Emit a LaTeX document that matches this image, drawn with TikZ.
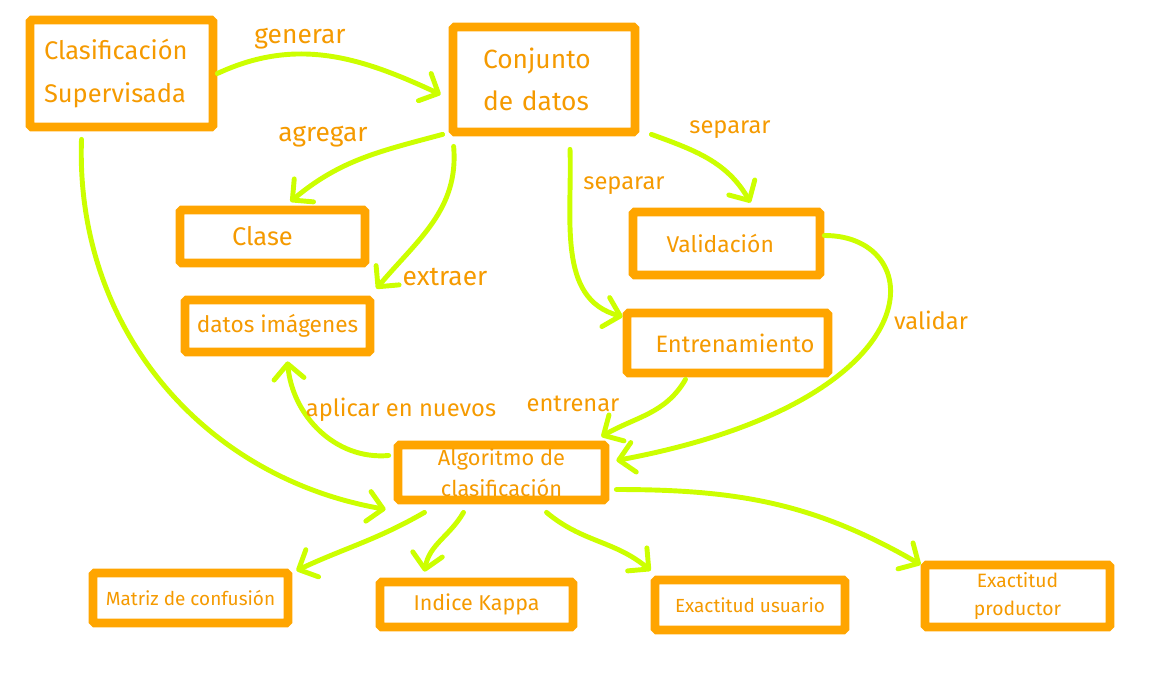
\documentclass[tikz,border=0pt]{standalone}
\usepackage{fontspec}
\setsansfont{Fira Sans}
\usepackage{tikz}
\usetikzlibrary{arrows.meta,calc}

\definecolor{boxorange}{HTML}{FFA500}
\definecolor{txtorange}{HTML}{F59A00}
\definecolor{limeline}{HTML}{CCFF00}

\begin{document}
\begin{tikzpicture}[
    x=0.02cm, y=-0.02cm,
    every node/.style={font=\sffamily, text=txtorange},
    conceptbox/.style={draw=boxorange, rectangle, line width=5pt, fill=white, rounded corners=1pt, inner sep=0pt, align=center},
    link/.style={draw=limeline, line width=2.8pt, line cap=round, -{Straight Barb[length=3mm, width=6mm, round]}},
    biglabel/.style={font=\sffamily\fontsize{15}{17}\selectfont},
    linklabel/.style={font=\sffamily\fontsize{13.5}{15}\selectfont}
]
    \useasboundingbox (0,0) rectangle (1175,672);

    % --------------------------------------------------------
    % 1. CONCEPT BOXES
    % --------------------------------------------------------

    % top row
    \node (sup) [conceptbox, align=left, text width=3.1cm, inner xsep=0.28cm, minimum height=2.14cm,
        font=\sffamily\fontsize{14.5}{25}\selectfont] at (121.5, 73.5) {Clasificación\\Supervisada};
    \node (datos) [conceptbox, align=left, text width=2.44cm, inner xsep=0.6cm, minimum height=2.1cm,
        font=\sffamily\fontsize{15}{24}\selectfont] at (544, 79.5) {Conjunto\\de datos};

    % middle boxes
    \node (clase) [conceptbox, minimum width=3.7cm, minimum height=1.06cm,
        font=\sffamily\fontsize{14.5}{16}\selectfont] at (272.5, 236.5) {\hspace*{-0.4cm}Clase};
    \node (imgs) [conceptbox, minimum width=3.7cm, minimum height=1.04cm,
        font=\sffamily\fontsize{12.9}{15}\selectfont] at (277.5, 326) {datos imágenes};
    \node (valid) [conceptbox, minimum width=3.74cm, minimum height=1.26cm,
        font=\sffamily\fontsize{13}{15}\selectfont] at (726.5, 243.5) {Validación\hspace*{0.25cm}};
    \node (entren) [conceptbox, minimum width=4.02cm, minimum height=1.2cm,
        font=\sffamily\fontsize{13.5}{15}\selectfont] at (727.5, 343) {\hspace*{0.3cm}Entrenamiento};
    \node (algo) [conceptbox, minimum width=4.14cm, minimum height=1.1cm,
        font=\sffamily\fontsize{12.4}{18}\selectfont] at (501.5, 472.5) {Algoritmo de\\clasificación};

    % bottom row
    \node (matriz) [conceptbox, minimum width=3.9cm, minimum height=1.0cm,
        font=\sffamily\fontsize{10.8}{12}\selectfont] at (190.5, 598) {Matriz de confusión};
    \node (kappa) [conceptbox, minimum width=3.86cm, minimum height=0.9cm,
        font=\sffamily\fontsize{12.2}{14}\selectfont] at (476.5, 604.5) {Indice Kappa};
    \node (usuario) [conceptbox, minimum width=3.8cm, minimum height=1.0cm,
        font=\sffamily\fontsize{10.8}{12}\selectfont] at (750, 605) {Exactitud usuario};
    \node (productor) [conceptbox, minimum width=3.7cm, minimum height=1.24cm,
        font=\sffamily\fontsize{11}{16}\selectfont] at (1017.5, 596) {Exactitud\\productor};

    % --------------------------------------------------------
    % 2. CONNECTORS
    % --------------------------------------------------------

    \draw [link] (sup.east) to[out=25, in=155] ($(datos.west)+(-8,15)$);
    \draw [link] ($(datos.south west)+(-6,-2)$) to[out=195, in=40] ($(clase.north)+(18,-4)$);
    \draw [link] ($(datos.south west)+(5,10)$) to[out=-85, in=50] ($(imgs.north east)+(2,-7)$);
    \draw [link] ($(datos.south east)+(12,-2)$) to[out=-20, in=120] ($(valid.north)+(24,-5)$);
    \draw [link] ($(datos.south)+(26,13)$) to[out=-88, in=165] ($(entren.north west)+(0,8)$);
    \draw [link] ($(valid.east)+(0,-8)$) .. controls (930,235) and (940,400) .. ($(algo.east)+(7,-12)$);
    \draw [link] ($(entren.south)+(-42,2)$) to[out=-120, in=30] ($(algo.north east)+(-8,-4)$);
    \draw [link] ($(algo.west)+(-5,-17)$) to[out=185, in=-85] ($(imgs.south)+(10,5)$);
    \draw [link] ($(sup.south)+(-40,8)$) to[out=-92, in=170] ($(algo.south west)+(-8,5)$);

    \draw [link] ($(algo.south)+(-77,8)$) to[out=-150, in=25] ($(matriz.north east)+(4,2)$);
    \draw [link] ($(algo.south)+(-38,8)$) to[out=-120, in=80] ($(kappa.north)+(-52,-6)$);
    \draw [link] ($(algo.south)+(45,8)$) to[out=-40, in=140] ($(usuario.north west)+(0,-5)$);
    \draw [link] ($(algo.east)+(7,17)$) to[out=0, in=150] ($(productor.north west)+(0,4)$);

    % --------------------------------------------------------
    % 3. CONNECTOR LABELS
    % --------------------------------------------------------

    \node (lgenerar) [biglabel] at (300, 39) {generar};
    \node (lagregar) [biglabel] at (323, 137) {agregar};
    \node (lextraer) [biglabel] at (445, 277) {extraer};
    \node (lsepval) [linklabel] at (730, 130) {separar};
    \node (lsepent) [linklabel] at (624, 186) {separar};
    \node (lvalidar) [linklabel] at (931, 320) {validar};
    \node (lentrenar) [linklabel] at (573, 404) {entrenar};
    \node (laplicar) [linklabel] at (401, 410) {aplicar en nuevos};

\end{tikzpicture}
\end{document}
